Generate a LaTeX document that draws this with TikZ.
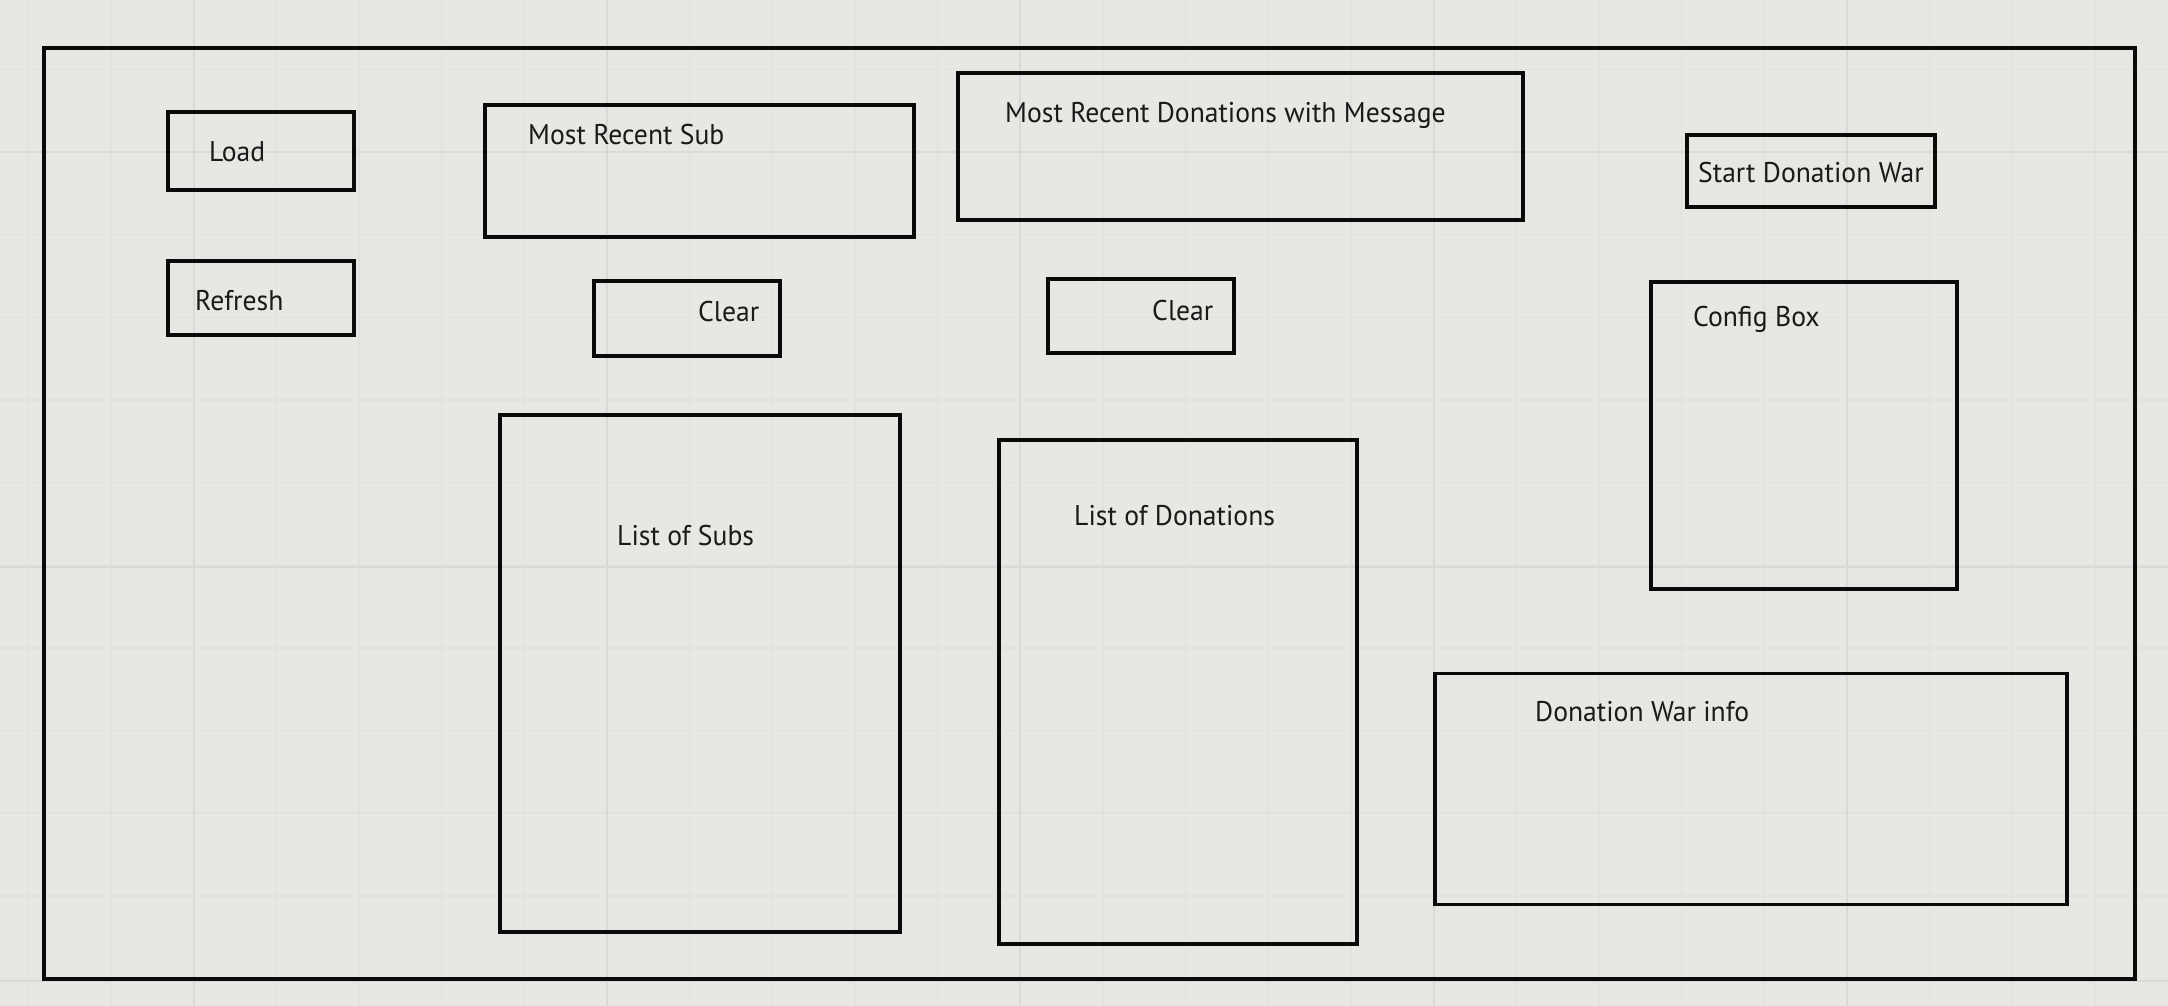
\documentclass[tikz,border=0pt]{standalone}
\usepackage{fontspec}
\setmainfont[FakeStretch=0.97]{PT Sans}
\definecolor{bgc}{HTML}{E8E7E3}
\definecolor{minorc}{HTML}{E2E1DE}
\definecolor{majorc}{HTML}{DAD9D7}
\definecolor{inkc}{HTML}{0A0A0A}
\definecolor{txtc}{HTML}{1A1A1A}
\tikzset{
  panel/.style={draw=inkc, line width=3.9pt, rectangle, inner sep=0pt},
  lbl/.style={anchor=base west, inner sep=0pt, text=txtc, font=\fontsize{28.5}{32}\selectfont},
}
\begin{document}
\begin{tikzpicture}[x=1pt,y=-1pt]
\fill[bgc] (0,0) rectangle (2168,1006);
\useasboundingbox (0,0) rectangle (2168,1006);
% grid
\foreach \k in {0,...,25} {
  \draw[minorc, line width=1.5pt] ({28.3+82.66*\k},0) -- ({28.3+82.66*\k},1006);
}
\foreach \k in {0,...,11} {
  \draw[minorc, line width=1.5pt] (0,{69.3+82.66*\k}) -- (2168,{69.3+82.66*\k});
}
\foreach \k in {0,...,4} {
  \draw[majorc, line width=2pt] ({193.6+413.3*\k},0) -- ({193.6+413.3*\k},1006);
}
\foreach \k in {0,1,2} {
  \draw[majorc, line width=2pt] (0,{152+414.7*\k}) -- (2168,{152+414.7*\k});
}
% boxes
\node[panel, minimum width=2091pt, minimum height=931pt] (outer) at (1089.5,513.5) {};
\node[panel, minimum width=186pt, minimum height=78pt] (load) at (261,151) {};
\node[panel, minimum width=186pt, minimum height=74pt] (refresh) at (261,298) {};
\node[panel, minimum width=429pt, minimum height=132pt] (mrsub) at (699.5,171) {};
\node[panel, minimum width=186pt, minimum height=75pt] (clearA) at (687,318.5) {};
\node[panel, minimum width=400pt, minimum height=517pt] (subs) at (700,673.5) {};
\node[panel, minimum width=565pt, minimum height=147pt] (mrdon) at (1240.5,146.5) {};
\node[panel, minimum width=186pt, minimum height=74pt] (clearB) at (1141,316) {};
\node[panel, minimum width=358pt, minimum height=504pt] (dons) at (1178,692) {};
\node[panel, minimum width=248pt, minimum height=72pt] (startwar) at (1811,171) {};
\node[panel, minimum width=306pt, minimum height=307pt] (config) at (1804,435.5) {};
\node[panel, minimum width=632pt, minimum height=231pt] (warinfo) at (1751,789) {};
% labels
\node[lbl] (tload) at (209,161.7) {Load};
\node[lbl] (trefresh) at (195,310) {Refresh};
\node[lbl] (tmrsub) at (528,145) {Most Recent Sub};
\node[lbl] (tclearA) at (698,321.7) {Clear};
\node[lbl] (tsubs) at (617,545.7) {List of Subs};
\node[lbl] (tmrdon) at (1005,123) {Most Recent Donations with Message};
\node[lbl] (tclearB) at (1152,320) {Clear};
\node[lbl] (tdons) at (1074,525.7) {List of Donations};
\node[lbl] (tstart) at (1698,182.5) {Start Donation War};
\node[lbl] (tconfig) at (1693,326.7) {Config Box};
\node[lbl] (tinfo) at (1535,721.7) {Donation War info};
\end{tikzpicture}
\end{document}
